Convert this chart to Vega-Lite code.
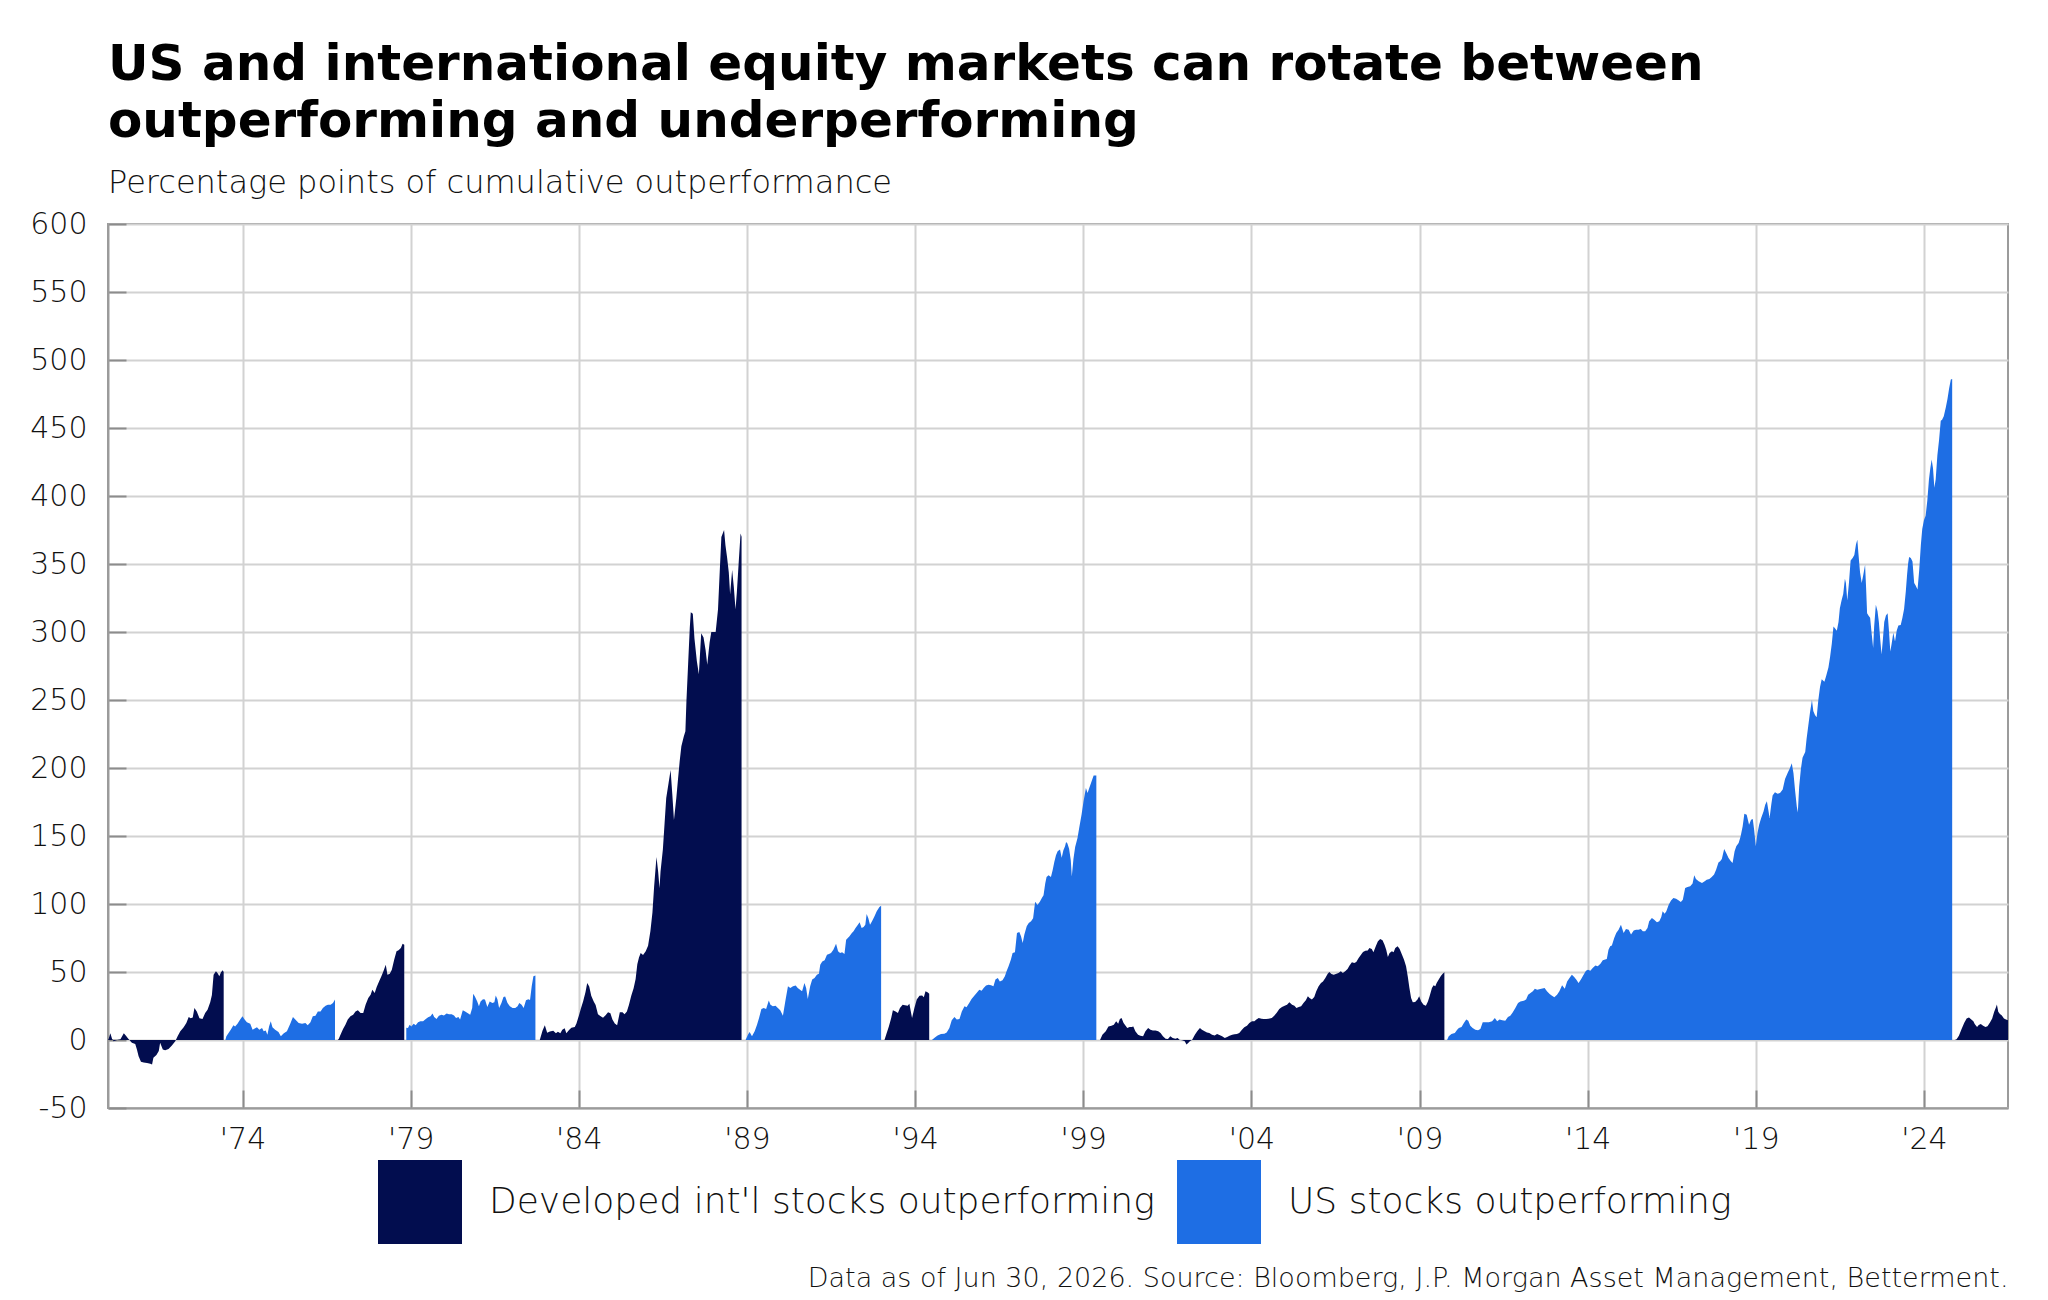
{
"$schema":"https://vega.github.io/schema/vega-lite/v6.json",
"width":1900,"height":884,
"autosize":{"type":"none"},
"padding":{"left":108,"top":224,"right":40,"bottom":192},
"background":"white",
"config":{"view":{"stroke":"#9b9b9b","strokeWidth":2},"font":"DejaVu Sans"},
"title":{"text":["US and international equity markets can rotate between","outperforming and underperforming"],"subtitle":"Percentage points of cumulative outperformance","anchor":"start","frame":"group","orient":"top","font":"DejaVu Sans","fontSize":50,"fontWeight":700,"color":"#000000","lineHeight":57,"subtitleFont":"DejaVu Sans","subtitleFontSize":32,"subtitleFontWeight":300,"subtitleColor":"#111111","subtitlePadding":21,"offset":10},
"data":{"values":[
{"t":1970.0,"v":0,"s":1,"c":"I"},{"t":1970.02,"v":1,"s":1,"c":"I"},{"t":1970.07,"v":5,"s":1,"c":"I"},{"t":1970.12,"v":1,"s":1,"c":"I"},{"t":1970.17,"v":-1,"s":1,"c":"I"},{"t":1970.27,"v":0,"s":1,"c":"I"},{"t":1970.37,"v":0.5,"s":1,"c":"I"},{"t":1970.47,"v":5,"s":1,"c":"I"},{"t":1970.54,"v":3,"s":1,"c":"I"},{"t":1970.61,"v":0.7,"s":1,"c":"I"},{"t":1970.71,"v":-2,"s":1,"c":"I"},{"t":1970.81,"v":-3,"s":1,"c":"I"},{"t":1970.86,"v":-7,"s":1,"c":"I"},{"t":1970.91,"v":-12,"s":1,"c":"I"},{"t":1970.98,"v":-16,"s":1,"c":"I"},{"t":1971.06,"v":-16.5,"s":1,"c":"I"},{"t":1971.16,"v":-17,"s":1,"c":"I"},{"t":1971.26,"v":-17.4,"s":1,"c":"I"},{"t":1971.31,"v":-18,"s":1,"c":"I"},{"t":1971.35,"v":-13,"s":1,"c":"I"},{"t":1971.44,"v":-11,"s":1,"c":"I"},{"t":1971.51,"v":-8,"s":1,"c":"I"},{"t":1971.55,"v":-2,"s":1,"c":"I"},{"t":1971.63,"v":-7,"s":1,"c":"I"},{"t":1971.7,"v":-7.6,"s":1,"c":"I"},{"t":1971.8,"v":-6.6,"s":1,"c":"I"},{"t":1971.9,"v":-4,"s":1,"c":"I"},{"t":1972.0,"v":-1,"s":1,"c":"I"},{"t":1972.07,"v":2.7,"s":1,"c":"I"},{"t":1972.15,"v":6.4,"s":1,"c":"I"},{"t":1972.25,"v":9.3,"s":1,"c":"I"},{"t":1972.33,"v":12.5,"s":1,"c":"I"},{"t":1972.4,"v":17,"s":1,"c":"I"},{"t":1972.46,"v":16,"s":1,"c":"I"},{"t":1972.52,"v":16.5,"s":1,"c":"I"},{"t":1972.57,"v":23.5,"s":1,"c":"I"},{"t":1972.64,"v":21,"s":1,"c":"I"},{"t":1972.72,"v":16,"s":1,"c":"I"},{"t":1972.81,"v":15.4,"s":1,"c":"I"},{"t":1972.89,"v":19.9,"s":1,"c":"I"},{"t":1972.96,"v":22.3,"s":1,"c":"I"},{"t":1973.04,"v":27.7,"s":1,"c":"I"},{"t":1973.09,"v":33,"s":1,"c":"I"},{"t":1973.14,"v":48,"s":1,"c":"I"},{"t":1973.21,"v":50.5,"s":1,"c":"I"},{"t":1973.26,"v":49,"s":1,"c":"I"},{"t":1973.31,"v":46.8,"s":1,"c":"I"},{"t":1973.36,"v":49.8,"s":1,"c":"I"},{"t":1973.41,"v":51.2,"s":1,"c":"I"},{"t":1973.44,"v":50,"s":1,"c":"I"},
{"t":1973.49,"v":0,"s":2,"c":"U"},{"t":1973.52,"v":2.7,"s":2,"c":"U"},{"t":1973.58,"v":5,"s":2,"c":"U"},{"t":1973.65,"v":7.6,"s":2,"c":"U"},{"t":1973.73,"v":10.8,"s":2,"c":"U"},{"t":1973.78,"v":10,"s":2,"c":"U"},{"t":1973.85,"v":12,"s":2,"c":"U"},{"t":1973.93,"v":15,"s":2,"c":"U"},{"t":1974.0,"v":17.4,"s":2,"c":"U"},{"t":1974.05,"v":15.4,"s":2,"c":"U"},{"t":1974.13,"v":13,"s":2,"c":"U"},{"t":1974.23,"v":12,"s":2,"c":"U"},{"t":1974.3,"v":7.6,"s":2,"c":"U"},{"t":1974.35,"v":8.3,"s":2,"c":"U"},{"t":1974.43,"v":9.3,"s":2,"c":"U"},{"t":1974.5,"v":7.6,"s":2,"c":"U"},{"t":1974.58,"v":8.8,"s":2,"c":"U"},{"t":1974.63,"v":6.4,"s":2,"c":"U"},{"t":1974.69,"v":6.9,"s":2,"c":"U"},{"t":1974.74,"v":3.9,"s":2,"c":"U"},{"t":1974.79,"v":10,"s":2,"c":"U"},{"t":1974.84,"v":13.7,"s":2,"c":"U"},{"t":1974.89,"v":9.3,"s":2,"c":"U"},{"t":1974.97,"v":7.6,"s":2,"c":"U"},{"t":1975.07,"v":5.9,"s":2,"c":"U"},{"t":1975.14,"v":2.7,"s":2,"c":"U"},{"t":1975.22,"v":4.7,"s":2,"c":"U"},{"t":1975.32,"v":6.4,"s":2,"c":"U"},{"t":1975.42,"v":12,"s":2,"c":"U"},{"t":1975.5,"v":17,"s":2,"c":"U"},{"t":1975.57,"v":15,"s":2,"c":"U"},{"t":1975.67,"v":12.5,"s":2,"c":"U"},{"t":1975.77,"v":12,"s":2,"c":"U"},{"t":1975.87,"v":12.5,"s":2,"c":"U"},{"t":1975.94,"v":10.8,"s":2,"c":"U"},{"t":1976.02,"v":13,"s":2,"c":"U"},{"t":1976.09,"v":17.4,"s":2,"c":"U"},{"t":1976.17,"v":17.9,"s":2,"c":"U"},{"t":1976.24,"v":21,"s":2,"c":"U"},{"t":1976.32,"v":21,"s":2,"c":"U"},{"t":1976.39,"v":23.5,"s":2,"c":"U"},{"t":1976.47,"v":25.2,"s":2,"c":"U"},{"t":1976.54,"v":26,"s":2,"c":"U"},{"t":1976.62,"v":26,"s":2,"c":"U"},{"t":1976.69,"v":27.2,"s":2,"c":"U"},{"t":1976.75,"v":29.7,"s":2,"c":"U"},
{"t":1976.83,"v":0,"s":3,"c":"I"},{"t":1976.86,"v":0.7,"s":3,"c":"I"},{"t":1976.93,"v":4.7,"s":3,"c":"I"},{"t":1976.99,"v":8,"s":3,"c":"I"},{"t":1977.06,"v":11.3,"s":3,"c":"I"},{"t":1977.13,"v":15,"s":3,"c":"I"},{"t":1977.21,"v":17.4,"s":3,"c":"I"},{"t":1977.29,"v":18.6,"s":3,"c":"I"},{"t":1977.36,"v":21,"s":3,"c":"I"},{"t":1977.43,"v":21.8,"s":3,"c":"I"},{"t":1977.51,"v":19.9,"s":3,"c":"I"},{"t":1977.59,"v":19.9,"s":3,"c":"I"},{"t":1977.66,"v":26,"s":3,"c":"I"},{"t":1977.74,"v":30.9,"s":3,"c":"I"},{"t":1977.81,"v":33.3,"s":3,"c":"I"},{"t":1977.86,"v":37,"s":3,"c":"I"},{"t":1977.93,"v":34.6,"s":3,"c":"I"},{"t":1977.99,"v":39,"s":3,"c":"I"},{"t":1978.06,"v":43,"s":3,"c":"I"},{"t":1978.13,"v":46.8,"s":3,"c":"I"},{"t":1978.19,"v":50.5,"s":3,"c":"I"},{"t":1978.26,"v":55.4,"s":3,"c":"I"},{"t":1978.31,"v":48,"s":3,"c":"I"},{"t":1978.38,"v":48.8,"s":3,"c":"I"},{"t":1978.44,"v":51.7,"s":3,"c":"I"},{"t":1978.51,"v":59,"s":3,"c":"I"},{"t":1978.58,"v":65.2,"s":3,"c":"I"},{"t":1978.64,"v":66,"s":3,"c":"I"},{"t":1978.71,"v":67.6,"s":3,"c":"I"},{"t":1978.76,"v":70.8,"s":3,"c":"I"},{"t":1978.81,"v":70,"s":3,"c":"I"},
{"t":1978.87,"v":9,"s":4,"c":"U"},{"t":1978.92,"v":8.8,"s":4,"c":"U"},{"t":1978.97,"v":11.3,"s":4,"c":"U"},{"t":1979.02,"v":10,"s":4,"c":"U"},{"t":1979.09,"v":12,"s":4,"c":"U"},{"t":1979.15,"v":10.8,"s":4,"c":"U"},{"t":1979.22,"v":13,"s":4,"c":"U"},{"t":1979.29,"v":13.7,"s":4,"c":"U"},{"t":1979.37,"v":13.7,"s":4,"c":"U"},{"t":1979.45,"v":15.4,"s":4,"c":"U"},{"t":1979.52,"v":16.7,"s":4,"c":"U"},{"t":1979.59,"v":17.4,"s":4,"c":"U"},{"t":1979.65,"v":19.4,"s":4,"c":"U"},{"t":1979.7,"v":16.9,"s":4,"c":"U"},{"t":1979.77,"v":15.4,"s":4,"c":"U"},{"t":1979.84,"v":17.9,"s":4,"c":"U"},{"t":1979.92,"v":18.6,"s":4,"c":"U"},{"t":1979.99,"v":18,"s":4,"c":"U"},{"t":1980.07,"v":19.4,"s":4,"c":"U"},{"t":1980.14,"v":19,"s":4,"c":"U"},{"t":1980.22,"v":19,"s":4,"c":"U"},{"t":1980.29,"v":18,"s":4,"c":"U"},{"t":1980.35,"v":16.2,"s":4,"c":"U"},{"t":1980.42,"v":17,"s":4,"c":"U"},{"t":1980.47,"v":15,"s":4,"c":"U"},{"t":1980.55,"v":21.8,"s":4,"c":"U"},{"t":1980.62,"v":21,"s":4,"c":"U"},{"t":1980.69,"v":19.9,"s":4,"c":"U"},{"t":1980.77,"v":18.6,"s":4,"c":"U"},{"t":1980.83,"v":23.5,"s":4,"c":"U"},{"t":1980.86,"v":34,"s":4,"c":"U"},{"t":1980.91,"v":32,"s":4,"c":"U"},{"t":1980.98,"v":28.4,"s":4,"c":"U"},{"t":1981.03,"v":24.8,"s":4,"c":"U"},{"t":1981.08,"v":28.4,"s":4,"c":"U"},{"t":1981.15,"v":30,"s":4,"c":"U"},{"t":1981.21,"v":29.7,"s":4,"c":"U"},{"t":1981.28,"v":24.3,"s":4,"c":"U"},{"t":1981.35,"v":28.4,"s":4,"c":"U"},{"t":1981.43,"v":27.2,"s":4,"c":"U"},{"t":1981.49,"v":27.7,"s":4,"c":"U"},{"t":1981.53,"v":32.8,"s":4,"c":"U"},{"t":1981.58,"v":30,"s":4,"c":"U"},{"t":1981.63,"v":23.5,"s":4,"c":"U"},{"t":1981.7,"v":27.2,"s":4,"c":"U"},{"t":1981.76,"v":31.6,"s":4,"c":"U"},{"t":1981.81,"v":32,"s":4,"c":"U"},{"t":1981.88,"v":27.2,"s":4,"c":"U"},{"t":1981.95,"v":24.8,"s":4,"c":"U"},{"t":1982.03,"v":23.5,"s":4,"c":"U"},{"t":1982.11,"v":23.5,"s":4,"c":"U"},{"t":1982.18,"v":24.8,"s":4,"c":"U"},{"t":1982.23,"v":27.2,"s":4,"c":"U"},{"t":1982.3,"v":26,"s":4,"c":"U"},{"t":1982.36,"v":23.5,"s":4,"c":"U"},{"t":1982.43,"v":29.2,"s":4,"c":"U"},{"t":1982.5,"v":30,"s":4,"c":"U"},{"t":1982.55,"v":29.5,"s":4,"c":"U"},{"t":1982.6,"v":39.5,"s":4,"c":"U"},{"t":1982.65,"v":46.8,"s":4,"c":"U"},{"t":1982.71,"v":47.5,"s":4,"c":"U"},
{"t":1982.84,"v":0,"s":5,"c":"I"},{"t":1982.92,"v":6.8,"s":5,"c":"I"},{"t":1982.99,"v":10.9,"s":5,"c":"I"},{"t":1983.06,"v":5.4,"s":5,"c":"I"},{"t":1983.14,"v":6.3,"s":5,"c":"I"},{"t":1983.24,"v":6.8,"s":5,"c":"I"},{"t":1983.32,"v":4.9,"s":5,"c":"I"},{"t":1983.38,"v":6,"s":5,"c":"I"},{"t":1983.45,"v":5,"s":5,"c":"I"},{"t":1983.51,"v":7.6,"s":5,"c":"I"},{"t":1983.58,"v":8.7,"s":5,"c":"I"},{"t":1983.63,"v":4.9,"s":5,"c":"I"},{"t":1983.71,"v":7.3,"s":5,"c":"I"},{"t":1983.78,"v":9,"s":5,"c":"I"},{"t":1983.88,"v":9.5,"s":5,"c":"I"},{"t":1983.93,"v":12.2,"s":5,"c":"I"},{"t":1984.0,"v":17.7,"s":5,"c":"I"},{"t":1984.06,"v":23,"s":5,"c":"I"},{"t":1984.13,"v":28.5,"s":5,"c":"I"},{"t":1984.2,"v":35.3,"s":5,"c":"I"},{"t":1984.25,"v":42,"s":5,"c":"I"},{"t":1984.31,"v":39.4,"s":5,"c":"I"},{"t":1984.37,"v":32.6,"s":5,"c":"I"},{"t":1984.44,"v":28.5,"s":5,"c":"I"},{"t":1984.5,"v":25.8,"s":5,"c":"I"},{"t":1984.57,"v":19,"s":5,"c":"I"},{"t":1984.64,"v":17.7,"s":5,"c":"I"},{"t":1984.72,"v":16.3,"s":5,"c":"I"},{"t":1984.79,"v":18,"s":5,"c":"I"},{"t":1984.87,"v":20.4,"s":5,"c":"I"},{"t":1984.94,"v":19.6,"s":5,"c":"I"},{"t":1985.0,"v":15,"s":5,"c":"I"},{"t":1985.07,"v":12.2,"s":5,"c":"I"},{"t":1985.14,"v":10.9,"s":5,"c":"I"},{"t":1985.22,"v":20.4,"s":5,"c":"I"},{"t":1985.3,"v":20.4,"s":5,"c":"I"},{"t":1985.36,"v":19,"s":5,"c":"I"},{"t":1985.43,"v":21,"s":5,"c":"I"},{"t":1985.49,"v":25.8,"s":5,"c":"I"},{"t":1985.56,"v":32.6,"s":5,"c":"I"},{"t":1985.63,"v":38,"s":5,"c":"I"},{"t":1985.69,"v":44.9,"s":5,"c":"I"},{"t":1985.74,"v":55.7,"s":5,"c":"I"},{"t":1985.79,"v":60.6,"s":5,"c":"I"},{"t":1985.84,"v":63.9,"s":5,"c":"I"},{"t":1985.91,"v":62.5,"s":5,"c":"I"},{"t":1985.99,"v":65.3,"s":5,"c":"I"},{"t":1986.06,"v":69.3,"s":5,"c":"I"},{"t":1986.13,"v":80.2,"s":5,"c":"I"},{"t":1986.19,"v":93.8,"s":5,"c":"I"},{"t":1986.24,"v":112.8,"s":5,"c":"I"},{"t":1986.31,"v":134.6,"s":5,"c":"I"},{"t":1986.36,"v":123.7,"s":5,"c":"I"},{"t":1986.4,"v":111.5,"s":5,"c":"I"},{"t":1986.43,"v":123.7,"s":5,"c":"I"},{"t":1986.5,"v":140,"s":5,"c":"I"},{"t":1986.55,"v":159,"s":5,"c":"I"},{"t":1986.6,"v":178,"s":5,"c":"I"},{"t":1986.67,"v":189,"s":5,"c":"I"},{"t":1986.73,"v":198.5,"s":5,"c":"I"},{"t":1986.78,"v":180.8,"s":5,"c":"I"},{"t":1986.83,"v":161.8,"s":5,"c":"I"},{"t":1986.9,"v":178,"s":5,"c":"I"},{"t":1986.95,"v":191.7,"s":5,"c":"I"},{"t":1987.0,"v":205,"s":5,"c":"I"},{"t":1987.05,"v":216,"s":5,"c":"I"},{"t":1987.12,"v":223,"s":5,"c":"I"},{"t":1987.17,"v":227,"s":5,"c":"I"},{"t":1987.2,"v":248.8,"s":5,"c":"I"},{"t":1987.25,"v":276,"s":5,"c":"I"},{"t":1987.3,"v":303,"s":5,"c":"I"},{"t":1987.33,"v":314.6,"s":5,"c":"I"},{"t":1987.39,"v":313.5,"s":5,"c":"I"},{"t":1987.44,"v":295,"s":5,"c":"I"},{"t":1987.51,"v":278.7,"s":5,"c":"I"},{"t":1987.57,"v":269,"s":5,"c":"I"},{"t":1987.64,"v":299,"s":5,"c":"I"},{"t":1987.71,"v":296,"s":5,"c":"I"},{"t":1987.77,"v":286.8,"s":5,"c":"I"},{"t":1987.82,"v":276,"s":5,"c":"I"},{"t":1987.89,"v":292.3,"s":5,"c":"I"},{"t":1987.94,"v":300,"s":5,"c":"I"},{"t":1988.07,"v":300,"s":5,"c":"I"},{"t":1988.14,"v":316.7,"s":5,"c":"I"},{"t":1988.19,"v":344,"s":5,"c":"I"},{"t":1988.24,"v":369.8,"s":5,"c":"I"},{"t":1988.32,"v":375,"s":5,"c":"I"},{"t":1988.36,"v":364,"s":5,"c":"I"},{"t":1988.41,"v":354.8,"s":5,"c":"I"},{"t":1988.46,"v":344,"s":5,"c":"I"},{"t":1988.5,"v":327.6,"s":5,"c":"I"},{"t":1988.56,"v":345.6,"s":5,"c":"I"},{"t":1988.61,"v":333,"s":5,"c":"I"},{"t":1988.66,"v":316.7,"s":5,"c":"I"},{"t":1988.7,"v":329,"s":5,"c":"I"},{"t":1988.75,"v":349,"s":5,"c":"I"},{"t":1988.81,"v":372.5,"s":5,"c":"I"},{"t":1988.84,"v":370,"s":5,"c":"I"},
{"t":1988.96,"v":0,"s":6,"c":"U"},{"t":1989.03,"v":3.9,"s":6,"c":"U"},{"t":1989.08,"v":5.9,"s":6,"c":"U"},{"t":1989.15,"v":2.7,"s":6,"c":"U"},{"t":1989.23,"v":6.4,"s":6,"c":"U"},{"t":1989.3,"v":11.3,"s":6,"c":"U"},{"t":1989.36,"v":16.2,"s":6,"c":"U"},{"t":1989.43,"v":22.8,"s":6,"c":"U"},{"t":1989.5,"v":23.5,"s":6,"c":"U"},{"t":1989.57,"v":22.8,"s":6,"c":"U"},{"t":1989.65,"v":29,"s":6,"c":"U"},{"t":1989.7,"v":26,"s":6,"c":"U"},{"t":1989.77,"v":24.8,"s":6,"c":"U"},{"t":1989.85,"v":25.2,"s":6,"c":"U"},{"t":1989.92,"v":23.5,"s":6,"c":"U"},{"t":1989.99,"v":21.8,"s":6,"c":"U"},{"t":1990.07,"v":17.9,"s":6,"c":"U"},{"t":1990.15,"v":29.7,"s":6,"c":"U"},{"t":1990.22,"v":39.5,"s":6,"c":"U"},{"t":1990.29,"v":38.2,"s":6,"c":"U"},{"t":1990.37,"v":39.5,"s":6,"c":"U"},{"t":1990.45,"v":40,"s":6,"c":"U"},{"t":1990.51,"v":38.2,"s":6,"c":"U"},{"t":1990.58,"v":37,"s":6,"c":"U"},{"t":1990.64,"v":35.8,"s":6,"c":"U"},{"t":1990.71,"v":41.9,"s":6,"c":"U"},{"t":1990.76,"v":38.2,"s":6,"c":"U"},{"t":1990.81,"v":30.1,"s":6,"c":"U"},{"t":1990.88,"v":39.5,"s":6,"c":"U"},{"t":1990.94,"v":44.4,"s":6,"c":"U"},{"t":1991.01,"v":45.6,"s":6,"c":"U"},{"t":1991.08,"v":48,"s":6,"c":"U"},{"t":1991.14,"v":48.8,"s":6,"c":"U"},{"t":1991.18,"v":55.4,"s":6,"c":"U"},{"t":1991.24,"v":57.8,"s":6,"c":"U"},{"t":1991.31,"v":58.6,"s":6,"c":"U"},{"t":1991.38,"v":62.7,"s":6,"c":"U"},{"t":1991.44,"v":63.2,"s":6,"c":"U"},{"t":1991.5,"v":64,"s":6,"c":"U"},{"t":1991.57,"v":66.4,"s":6,"c":"U"},{"t":1991.65,"v":70.8,"s":6,"c":"U"},{"t":1991.71,"v":65.2,"s":6,"c":"U"},{"t":1991.77,"v":64,"s":6,"c":"U"},{"t":1991.83,"v":64.5,"s":6,"c":"U"},{"t":1991.9,"v":63.2,"s":6,"c":"U"},{"t":1991.95,"v":73.8,"s":6,"c":"U"},{"t":1992.0,"v":75,"s":6,"c":"U"},{"t":1992.05,"v":76.2,"s":6,"c":"U"},{"t":1992.12,"v":78.7,"s":6,"c":"U"},{"t":1992.17,"v":79.9,"s":6,"c":"U"},{"t":1992.23,"v":82.4,"s":6,"c":"U"},{"t":1992.3,"v":84.8,"s":6,"c":"U"},{"t":1992.35,"v":86.5,"s":6,"c":"U"},{"t":1992.41,"v":82.4,"s":6,"c":"U"},{"t":1992.47,"v":83,"s":6,"c":"U"},{"t":1992.52,"v":84.8,"s":6,"c":"U"},{"t":1992.56,"v":92.6,"s":6,"c":"U"},{"t":1992.61,"v":89.6,"s":6,"c":"U"},{"t":1992.66,"v":84.8,"s":6,"c":"U"},{"t":1992.72,"v":87.3,"s":6,"c":"U"},{"t":1992.79,"v":90.9,"s":6,"c":"U"},{"t":1992.86,"v":94.6,"s":6,"c":"U"},{"t":1992.94,"v":97.8,"s":6,"c":"U"},{"t":1992.99,"v":98.8,"s":6,"c":"U"},
{"t":1993.09,"v":0,"s":7,"c":"I"},{"t":1993.14,"v":3.9,"s":7,"c":"I"},{"t":1993.22,"v":10,"s":7,"c":"I"},{"t":1993.29,"v":16.2,"s":7,"c":"I"},{"t":1993.34,"v":21.8,"s":7,"c":"I"},{"t":1993.42,"v":21,"s":7,"c":"I"},{"t":1993.49,"v":19.9,"s":7,"c":"I"},{"t":1993.55,"v":23.5,"s":7,"c":"I"},{"t":1993.63,"v":26,"s":7,"c":"I"},{"t":1993.7,"v":25.5,"s":7,"c":"I"},{"t":1993.78,"v":25.2,"s":7,"c":"I"},{"t":1993.83,"v":26.7,"s":7,"c":"I"},{"t":1993.91,"v":16.2,"s":7,"c":"I"},{"t":1993.98,"v":23.5,"s":7,"c":"I"},{"t":1994.05,"v":29.7,"s":7,"c":"I"},{"t":1994.13,"v":32.6,"s":7,"c":"I"},{"t":1994.21,"v":32.8,"s":7,"c":"I"},{"t":1994.26,"v":31.4,"s":7,"c":"I"},{"t":1994.31,"v":35.8,"s":7,"c":"I"},{"t":1994.38,"v":35,"s":7,"c":"I"},{"t":1994.42,"v":34,"s":7,"c":"I"},
{"t":1994.5,"v":0,"s":8,"c":"U"},{"t":1994.57,"v":1.5,"s":8,"c":"U"},{"t":1994.67,"v":3.4,"s":8,"c":"U"},{"t":1994.77,"v":4.4,"s":8,"c":"U"},{"t":1994.87,"v":4.6,"s":8,"c":"U"},{"t":1994.94,"v":5.6,"s":8,"c":"U"},{"t":1995.02,"v":8.8,"s":8,"c":"U"},{"t":1995.09,"v":14.5,"s":8,"c":"U"},{"t":1995.17,"v":16.9,"s":8,"c":"U"},{"t":1995.24,"v":15,"s":8,"c":"U"},{"t":1995.32,"v":15.4,"s":8,"c":"U"},{"t":1995.39,"v":21,"s":8,"c":"U"},{"t":1995.47,"v":24.8,"s":8,"c":"U"},{"t":1995.53,"v":24,"s":8,"c":"U"},{"t":1995.61,"v":27.2,"s":8,"c":"U"},{"t":1995.68,"v":30.1,"s":8,"c":"U"},{"t":1995.76,"v":32.6,"s":8,"c":"U"},{"t":1995.83,"v":34.6,"s":8,"c":"U"},{"t":1995.91,"v":37,"s":8,"c":"U"},{"t":1995.98,"v":36.3,"s":8,"c":"U"},{"t":1996.04,"v":38.2,"s":8,"c":"U"},{"t":1996.11,"v":40,"s":8,"c":"U"},{"t":1996.19,"v":40.7,"s":8,"c":"U"},{"t":1996.26,"v":40.2,"s":8,"c":"U"},{"t":1996.33,"v":39.5,"s":8,"c":"U"},{"t":1996.39,"v":44.4,"s":8,"c":"U"},{"t":1996.46,"v":45.6,"s":8,"c":"U"},{"t":1996.52,"v":43.1,"s":8,"c":"U"},{"t":1996.6,"v":43.9,"s":8,"c":"U"},{"t":1996.67,"v":46.8,"s":8,"c":"U"},{"t":1996.72,"v":50.5,"s":8,"c":"U"},{"t":1996.78,"v":54.2,"s":8,"c":"U"},{"t":1996.85,"v":59.1,"s":8,"c":"U"},{"t":1996.9,"v":64,"s":8,"c":"U"},{"t":1996.97,"v":64.5,"s":8,"c":"U"},{"t":1997.03,"v":78.7,"s":8,"c":"U"},{"t":1997.1,"v":79.4,"s":8,"c":"U"},{"t":1997.15,"v":76.2,"s":8,"c":"U"},{"t":1997.2,"v":71.3,"s":8,"c":"U"},{"t":1997.25,"v":77.5,"s":8,"c":"U"},{"t":1997.32,"v":83.6,"s":8,"c":"U"},{"t":1997.38,"v":86,"s":8,"c":"U"},{"t":1997.45,"v":87.3,"s":8,"c":"U"},{"t":1997.51,"v":89.6,"s":8,"c":"U"},{"t":1997.57,"v":101.6,"s":8,"c":"U"},{"t":1997.64,"v":99.3,"s":8,"c":"U"},{"t":1997.71,"v":101.6,"s":8,"c":"U"},{"t":1997.77,"v":104.4,"s":8,"c":"U"},{"t":1997.82,"v":106.4,"s":8,"c":"U"},{"t":1997.87,"v":115,"s":8,"c":"U"},{"t":1997.91,"v":119.8,"s":8,"c":"U"},{"t":1997.97,"v":121.1,"s":8,"c":"U"},{"t":1998.04,"v":119.8,"s":8,"c":"U"},{"t":1998.09,"v":124.8,"s":8,"c":"U"},{"t":1998.14,"v":130.9,"s":8,"c":"U"},{"t":1998.19,"v":135.8,"s":8,"c":"U"},{"t":1998.24,"v":138.7,"s":8,"c":"U"},{"t":1998.31,"v":140,"s":8,"c":"U"},{"t":1998.36,"v":134,"s":8,"c":"U"},{"t":1998.41,"v":139.5,"s":8,"c":"U"},{"t":1998.46,"v":142.4,"s":8,"c":"U"},{"t":1998.49,"v":145.6,"s":8,"c":"U"},{"t":1998.53,"v":144.4,"s":8,"c":"U"},{"t":1998.58,"v":140.7,"s":8,"c":"U"},{"t":1998.63,"v":132.2,"s":8,"c":"U"},{"t":1998.66,"v":120.3,"s":8,"c":"U"},{"t":1998.71,"v":133.3,"s":8,"c":"U"},{"t":1998.76,"v":141.9,"s":8,"c":"U"},{"t":1998.83,"v":148.5,"s":8,"c":"U"},{"t":1998.88,"v":155.9,"s":8,"c":"U"},{"t":1998.95,"v":165.7,"s":8,"c":"U"},{"t":1999.01,"v":175.5,"s":8,"c":"U"},{"t":1999.08,"v":185.3,"s":8,"c":"U"},{"t":1999.13,"v":181.6,"s":8,"c":"U"},{"t":1999.18,"v":185.3,"s":8,"c":"U"},{"t":1999.25,"v":190.2,"s":8,"c":"U"},{"t":1999.31,"v":194.4,"s":8,"c":"U"},{"t":1999.39,"v":194.4,"s":8,"c":"U"},
{"t":1999.5,"v":0,"s":9,"c":"I"},{"t":1999.57,"v":3.9,"s":9,"c":"I"},{"t":1999.67,"v":6.4,"s":9,"c":"I"},{"t":1999.75,"v":10,"s":9,"c":"I"},{"t":1999.84,"v":10.5,"s":9,"c":"I"},{"t":1999.91,"v":11.3,"s":9,"c":"I"},{"t":1999.98,"v":13.7,"s":9,"c":"I"},{"t":2000.04,"v":12,"s":9,"c":"I"},{"t":2000.09,"v":15.4,"s":9,"c":"I"},{"t":2000.14,"v":16.2,"s":9,"c":"I"},{"t":2000.2,"v":12.5,"s":9,"c":"I"},{"t":2000.26,"v":10.5,"s":9,"c":"I"},{"t":2000.31,"v":8.8,"s":9,"c":"I"},{"t":2000.38,"v":9.6,"s":9,"c":"I"},{"t":2000.44,"v":9.6,"s":9,"c":"I"},{"t":2000.49,"v":10,"s":9,"c":"I"},{"t":2000.55,"v":6.4,"s":9,"c":"I"},{"t":2000.63,"v":3.9,"s":9,"c":"I"},{"t":2000.7,"v":3.2,"s":9,"c":"I"},{"t":2000.78,"v":2.7,"s":9,"c":"I"},{"t":2000.85,"v":6.4,"s":9,"c":"I"},{"t":2000.93,"v":8.8,"s":9,"c":"I"},{"t":2001.0,"v":7.6,"s":9,"c":"I"},{"t":2001.07,"v":6.9,"s":9,"c":"I"},{"t":2001.15,"v":6.9,"s":9,"c":"I"},{"t":2001.23,"v":6.4,"s":9,"c":"I"},{"t":2001.3,"v":5.1,"s":9,"c":"I"},{"t":2001.37,"v":2.7,"s":9,"c":"I"},{"t":2001.45,"v":1,"s":9,"c":"I"},{"t":2001.52,"v":0.8,"s":9,"c":"I"},{"t":2001.59,"v":2.7,"s":9,"c":"I"},{"t":2001.66,"v":1.5,"s":9,"c":"I"},{"t":2001.74,"v":1,"s":9,"c":"I"},{"t":2001.81,"v":1.5,"s":9,"c":"I"},{"t":2001.86,"v":0.2,"s":9,"c":"I"},{"t":2001.94,"v":-0.2,"s":9,"c":"I"},{"t":2002.02,"v":-1,"s":9,"c":"I"},{"t":2002.07,"v":-3.4,"s":9,"c":"I"},{"t":2002.12,"v":-2.2,"s":9,"c":"I"},{"t":2002.17,"v":-1,"s":9,"c":"I"},{"t":2002.24,"v":0.2,"s":9,"c":"I"},{"t":2002.32,"v":3.9,"s":9,"c":"I"},{"t":2002.39,"v":6.4,"s":9,"c":"I"},{"t":2002.47,"v":8.8,"s":9,"c":"I"},{"t":2002.53,"v":7.6,"s":9,"c":"I"},{"t":2002.61,"v":6.4,"s":9,"c":"I"},{"t":2002.68,"v":5.6,"s":9,"c":"I"},{"t":2002.75,"v":5.1,"s":9,"c":"I"},{"t":2002.83,"v":3.9,"s":9,"c":"I"},{"t":2002.91,"v":3.4,"s":9,"c":"I"},{"t":2002.98,"v":4.4,"s":9,"c":"I"},{"t":2003.05,"v":3.7,"s":9,"c":"I"},{"t":2003.13,"v":2.7,"s":9,"c":"I"},{"t":2003.21,"v":1.5,"s":9,"c":"I"},{"t":2003.28,"v":2.2,"s":9,"c":"I"},{"t":2003.35,"v":3.2,"s":9,"c":"I"},{"t":2003.43,"v":3.9,"s":9,"c":"I"},{"t":2003.5,"v":4.2,"s":9,"c":"I"},{"t":2003.57,"v":4.4,"s":9,"c":"I"},{"t":2003.64,"v":5.1,"s":9,"c":"I"},{"t":2003.72,"v":7.6,"s":9,"c":"I"},{"t":2003.79,"v":9.3,"s":9,"c":"I"},{"t":2003.87,"v":10.5,"s":9,"c":"I"},{"t":2003.94,"v":12.5,"s":9,"c":"I"},{"t":2004.02,"v":13.7,"s":9,"c":"I"},{"t":2004.09,"v":13.7,"s":9,"c":"I"},{"t":2004.15,"v":15,"s":9,"c":"I"},{"t":2004.22,"v":16.2,"s":9,"c":"I"},{"t":2004.3,"v":15.7,"s":9,"c":"I"},{"t":2004.37,"v":15.5,"s":9,"c":"I"},{"t":2004.44,"v":15.5,"s":9,"c":"I"},{"t":2004.51,"v":15.7,"s":9,"c":"I"},{"t":2004.61,"v":16.2,"s":9,"c":"I"},{"t":2004.68,"v":17.9,"s":9,"c":"I"},{"t":2004.76,"v":20.3,"s":9,"c":"I"},{"t":2004.83,"v":22.8,"s":9,"c":"I"},{"t":2004.91,"v":24.3,"s":9,"c":"I"},{"t":2004.99,"v":25.2,"s":9,"c":"I"},{"t":2005.06,"v":26,"s":9,"c":"I"},{"t":2005.13,"v":27.7,"s":9,"c":"I"},{"t":2005.21,"v":26,"s":9,"c":"I"},{"t":2005.28,"v":25.2,"s":9,"c":"I"},{"t":2005.34,"v":23.5,"s":9,"c":"I"},{"t":2005.41,"v":24.3,"s":9,"c":"I"},{"t":2005.48,"v":24.8,"s":9,"c":"I"},{"t":2005.55,"v":27.2,"s":9,"c":"I"},{"t":2005.62,"v":29.2,"s":9,"c":"I"},{"t":2005.68,"v":32.1,"s":9,"c":"I"},{"t":2005.73,"v":30.9,"s":9,"c":"I"},{"t":2005.8,"v":29.7,"s":9,"c":"I"},{"t":2005.87,"v":31.6,"s":9,"c":"I"},{"t":2005.93,"v":35.8,"s":9,"c":"I"},{"t":2006.0,"v":39.5,"s":9,"c":"I"},{"t":2006.07,"v":41.9,"s":9,"c":"I"},{"t":2006.13,"v":43.1,"s":9,"c":"I"},{"t":2006.2,"v":45.6,"s":9,"c":"I"},{"t":2006.27,"v":48.8,"s":9,"c":"I"},{"t":2006.32,"v":50,"s":9,"c":"I"},{"t":2006.38,"v":48.5,"s":9,"c":"I"},{"t":2006.45,"v":48,"s":9,"c":"I"},{"t":2006.51,"v":48.5,"s":9,"c":"I"},{"t":2006.59,"v":49.3,"s":9,"c":"I"},{"t":2006.66,"v":50.5,"s":9,"c":"I"},{"t":2006.72,"v":49.3,"s":9,"c":"I"},{"t":2006.79,"v":50.5,"s":9,"c":"I"},{"t":2006.86,"v":52.2,"s":9,"c":"I"},{"t":2006.92,"v":54.7,"s":9,"c":"I"},{"t":2006.99,"v":57.1,"s":9,"c":"I"},{"t":2007.06,"v":56.6,"s":9,"c":"I"},{"t":2007.12,"v":57.4,"s":9,"c":"I"},{"t":2007.19,"v":60.3,"s":9,"c":"I"},{"t":2007.26,"v":62.7,"s":9,"c":"I"},{"t":2007.32,"v":64.7,"s":9,"c":"I"},{"t":2007.39,"v":65.7,"s":9,"c":"I"},{"t":2007.46,"v":65.9,"s":9,"c":"I"},{"t":2007.51,"v":67.6,"s":9,"c":"I"},{"t":2007.58,"v":66.9,"s":9,"c":"I"},{"t":2007.63,"v":64.5,"s":9,"c":"I"},{"t":2007.7,"v":68.9,"s":9,"c":"I"},{"t":2007.76,"v":72.5,"s":9,"c":"I"},{"t":2007.83,"v":74.3,"s":9,"c":"I"},{"t":2007.9,"v":73.3,"s":9,"c":"I"},{"t":2007.96,"v":70.1,"s":9,"c":"I"},{"t":2008.01,"v":66.4,"s":9,"c":"I"},{"t":2008.06,"v":61,"s":9,"c":"I"},{"t":2008.11,"v":64,"s":9,"c":"I"},{"t":2008.18,"v":65.2,"s":9,"c":"I"},{"t":2008.23,"v":64.5,"s":9,"c":"I"},{"t":2008.28,"v":67.6,"s":9,"c":"I"},{"t":2008.35,"v":68.9,"s":9,"c":"I"},{"t":2008.41,"v":66.9,"s":9,"c":"I"},{"t":2008.48,"v":62.7,"s":9,"c":"I"},{"t":2008.54,"v":59,"s":9,"c":"I"},{"t":2008.6,"v":54.2,"s":9,"c":"I"},{"t":2008.65,"v":46.8,"s":9,"c":"I"},{"t":2008.7,"v":38.2,"s":9,"c":"I"},{"t":2008.75,"v":30.9,"s":9,"c":"I"},{"t":2008.8,"v":27.7,"s":9,"c":"I"},{"t":2008.87,"v":28,"s":9,"c":"I"},{"t":2008.94,"v":29.7,"s":9,"c":"I"},{"t":2008.99,"v":32.1,"s":9,"c":"I"},{"t":2009.05,"v":28.4,"s":9,"c":"I"},{"t":2009.12,"v":26,"s":9,"c":"I"},{"t":2009.19,"v":25.2,"s":9,"c":"I"},{"t":2009.25,"v":28.4,"s":9,"c":"I"},{"t":2009.3,"v":32.1,"s":9,"c":"I"},{"t":2009.37,"v":38.2,"s":9,"c":"I"},{"t":2009.42,"v":40.2,"s":9,"c":"I"},{"t":2009.47,"v":39.5,"s":9,"c":"I"},{"t":2009.51,"v":41.9,"s":9,"c":"I"},{"t":2009.58,"v":44.9,"s":9,"c":"I"},{"t":2009.64,"v":47.3,"s":9,"c":"I"},{"t":2009.69,"v":48.8,"s":9,"c":"I"},{"t":2009.74,"v":49.8,"s":9,"c":"I"},
{"t":2009.82,"v":0,"s":10,"c":"U"},{"t":2009.87,"v":2.7,"s":10,"c":"U"},{"t":2009.95,"v":4.4,"s":10,"c":"U"},{"t":2010.05,"v":5.1,"s":10,"c":"U"},{"t":2010.12,"v":7.6,"s":10,"c":"U"},{"t":2010.17,"v":8.8,"s":10,"c":"U"},{"t":2010.25,"v":9.6,"s":10,"c":"U"},{"t":2010.32,"v":12.5,"s":10,"c":"U"},{"t":2010.39,"v":15,"s":10,"c":"U"},{"t":2010.45,"v":14.2,"s":10,"c":"U"},{"t":2010.51,"v":10.5,"s":10,"c":"U"},{"t":2010.58,"v":8.8,"s":10,"c":"U"},{"t":2010.66,"v":7.6,"s":10,"c":"U"},{"t":2010.74,"v":7.1,"s":10,"c":"U"},{"t":2010.81,"v":8.1,"s":10,"c":"U"},{"t":2010.88,"v":13,"s":10,"c":"U"},{"t":2010.96,"v":13,"s":10,"c":"U"},{"t":2011.06,"v":13,"s":10,"c":"U"},{"t":2011.16,"v":13.7,"s":10,"c":"U"},{"t":2011.24,"v":16.2,"s":10,"c":"U"},{"t":2011.31,"v":13.7,"s":10,"c":"U"},{"t":2011.38,"v":15,"s":10,"c":"U"},{"t":2011.46,"v":14.5,"s":10,"c":"U"},{"t":2011.55,"v":14.2,"s":10,"c":"U"},{"t":2011.63,"v":16.9,"s":10,"c":"U"},{"t":2011.7,"v":17.9,"s":10,"c":"U"},{"t":2011.77,"v":20.3,"s":10,"c":"U"},{"t":2011.85,"v":23.5,"s":10,"c":"U"},{"t":2011.93,"v":27.2,"s":10,"c":"U"},{"t":2012.0,"v":28.4,"s":10,"c":"U"},{"t":2012.1,"v":28.9,"s":10,"c":"U"},{"t":2012.17,"v":29.7,"s":10,"c":"U"},{"t":2012.23,"v":33.3,"s":10,"c":"U"},{"t":2012.3,"v":34.6,"s":10,"c":"U"},{"t":2012.37,"v":35.8,"s":10,"c":"U"},{"t":2012.43,"v":37.7,"s":10,"c":"U"},{"t":2012.5,"v":37,"s":10,"c":"U"},{"t":2012.59,"v":37.5,"s":10,"c":"U"},{"t":2012.72,"v":38.2,"s":10,"c":"U"},{"t":2012.79,"v":35.8,"s":10,"c":"U"},{"t":2012.87,"v":33.8,"s":10,"c":"U"},{"t":2012.94,"v":32.6,"s":10,"c":"U"},{"t":2013.01,"v":31.4,"s":10,"c":"U"},{"t":2013.09,"v":33.3,"s":10,"c":"U"},{"t":2013.16,"v":35.8,"s":10,"c":"U"},{"t":2013.24,"v":40.2,"s":10,"c":"U"},{"t":2013.32,"v":37.7,"s":10,"c":"U"},{"t":2013.39,"v":43.1,"s":10,"c":"U"},{"t":2013.46,"v":45.6,"s":10,"c":"U"},{"t":2013.53,"v":48,"s":10,"c":"U"},{"t":2013.6,"v":46.3,"s":10,"c":"U"},{"t":2013.66,"v":44.4,"s":10,"c":"U"},{"t":2013.73,"v":41.9,"s":10,"c":"U"},{"t":2013.8,"v":44.4,"s":10,"c":"U"},{"t":2013.88,"v":48,"s":10,"c":"U"},{"t":2013.95,"v":50.9,"s":10,"c":"U"},{"t":2014.01,"v":51.7,"s":10,"c":"U"},{"t":2014.08,"v":50.9,"s":10,"c":"U"},{"t":2014.15,"v":52.9,"s":10,"c":"U"},{"t":2014.23,"v":54.7,"s":10,"c":"U"},{"t":2014.3,"v":54.2,"s":10,"c":"U"},{"t":2014.38,"v":56.1,"s":10,"c":"U"},{"t":2014.45,"v":58.6,"s":10,"c":"U"},{"t":2014.52,"v":59.1,"s":10,"c":"U"},{"t":2014.57,"v":59.6,"s":10,"c":"U"},{"t":2014.62,"v":66.4,"s":10,"c":"U"},{"t":2014.67,"v":68.9,"s":10,"c":"U"},{"t":2014.72,"v":69.4,"s":10,"c":"U"},{"t":2014.79,"v":75,"s":10,"c":"U"},{"t":2014.85,"v":78.7,"s":10,"c":"U"},{"t":2014.92,"v":81.1,"s":10,"c":"U"},{"t":2014.99,"v":84.8,"s":10,"c":"U"},{"t":2015.07,"v":78.7,"s":10,"c":"U"},{"t":2015.14,"v":81.6,"s":10,"c":"U"},{"t":2015.22,"v":81.1,"s":10,"c":"U"},{"t":2015.29,"v":77.5,"s":10,"c":"U"},{"t":2015.37,"v":80.6,"s":10,"c":"U"},{"t":2015.44,"v":81.1,"s":10,"c":"U"},{"t":2015.51,"v":81.1,"s":10,"c":"U"},{"t":2015.58,"v":81.6,"s":10,"c":"U"},{"t":2015.64,"v":79.9,"s":10,"c":"U"},{"t":2015.71,"v":79.9,"s":10,"c":"U"},{"t":2015.78,"v":82.4,"s":10,"c":"U"},{"t":2015.83,"v":87.3,"s":10,"c":"U"},{"t":2015.91,"v":89.7,"s":10,"c":"U"},{"t":2015.98,"v":88.5,"s":10,"c":"U"},{"t":2016.06,"v":86.5,"s":10,"c":"U"},{"t":2016.13,"v":87.3,"s":10,"c":"U"},{"t":2016.19,"v":90.4,"s":10,"c":"U"},{"t":2016.23,"v":94.6,"s":10,"c":"U"},{"t":2016.29,"v":92.9,"s":10,"c":"U"},{"t":2016.34,"v":94.6,"s":10,"c":"U"},{"t":2016.41,"v":99.5,"s":10,"c":"U"},{"t":2016.48,"v":102.5,"s":10,"c":"U"},{"t":2016.55,"v":104.4,"s":10,"c":"U"},{"t":2016.63,"v":103.9,"s":10,"c":"U"},{"t":2016.7,"v":102.7,"s":10,"c":"U"},{"t":2016.77,"v":101.5,"s":10,"c":"U"},{"t":2016.83,"v":103.2,"s":10,"c":"U"},{"t":2016.9,"v":111.8,"s":10,"c":"U"},{"t":2016.97,"v":112.5,"s":10,"c":"U"},{"t":2017.05,"v":113,"s":10,"c":"U"},{"t":2017.12,"v":115,"s":10,"c":"U"},{"t":2017.17,"v":121.1,"s":10,"c":"U"},{"t":2017.22,"v":118.4,"s":10,"c":"U"},{"t":2017.3,"v":116.7,"s":10,"c":"U"},{"t":2017.4,"v":115.4,"s":10,"c":"U"},{"t":2017.48,"v":116.7,"s":10,"c":"U"},{"t":2017.54,"v":117.9,"s":10,"c":"U"},{"t":2017.62,"v":118.4,"s":10,"c":"U"},{"t":2017.69,"v":119.9,"s":10,"c":"U"},{"t":2017.76,"v":121.6,"s":10,"c":"U"},{"t":2017.82,"v":125.2,"s":10,"c":"U"},{"t":2017.89,"v":130.6,"s":10,"c":"U"},{"t":2017.94,"v":131.4,"s":10,"c":"U"},{"t":2017.99,"v":133.1,"s":10,"c":"U"},{"t":2018.06,"v":140.4,"s":10,"c":"U"},{"t":2018.12,"v":137.5,"s":10,"c":"U"},{"t":2018.19,"v":133.8,"s":10,"c":"U"},{"t":2018.26,"v":131.4,"s":10,"c":"U"},{"t":2018.31,"v":130.1,"s":10,"c":"U"},{"t":2018.37,"v":138.7,"s":10,"c":"U"},{"t":2018.42,"v":142.4,"s":10,"c":"U"},{"t":2018.49,"v":144.9,"s":10,"c":"U"},{"t":2018.55,"v":149.8,"s":10,"c":"U"},{"t":2018.61,"v":157.1,"s":10,"c":"U"},{"t":2018.66,"v":166.4,"s":10,"c":"U"},{"t":2018.73,"v":165.7,"s":10,"c":"U"},{"t":2018.8,"v":158.3,"s":10,"c":"U"},{"t":2018.86,"v":162,"s":10,"c":"U"},{"t":2018.91,"v":162.5,"s":10,"c":"U"},{"t":2018.95,"v":154.7,"s":10,"c":"U"},{"t":2019.0,"v":142.4,"s":10,"c":"U"},{"t":2019.05,"v":152.2,"s":10,"c":"U"},{"t":2019.1,"v":158.3,"s":10,"c":"U"},{"t":2019.16,"v":163.2,"s":10,"c":"U"},{"t":2019.23,"v":168.1,"s":10,"c":"U"},{"t":2019.28,"v":173,"s":10,"c":"U"},{"t":2019.33,"v":175.5,"s":10,"c":"U"},{"t":2019.38,"v":168.1,"s":10,"c":"U"},{"t":2019.41,"v":163.2,"s":10,"c":"U"},{"t":2019.46,"v":173,"s":10,"c":"U"},{"t":2019.5,"v":179.7,"s":10,"c":"U"},{"t":2019.57,"v":182.1,"s":10,"c":"U"},{"t":2019.65,"v":181.1,"s":10,"c":"U"},{"t":2019.72,"v":181.6,"s":10,"c":"U"},{"t":2019.8,"v":184.1,"s":10,"c":"U"},{"t":2019.87,"v":192,"s":10,"c":"U"},{"t":2019.95,"v":196.5,"s":10,"c":"U"},{"t":2020.02,"v":200.2,"s":10,"c":"U"},{"t":2020.07,"v":203.5,"s":10,"c":"U"},{"t":2020.12,"v":196.3,"s":10,"c":"U"},{"t":2020.17,"v":183,"s":10,"c":"U"},{"t":2020.22,"v":171.5,"s":10,"c":"U"},{"t":2020.25,"v":167.2,"s":10,"c":"U"},{"t":2020.29,"v":186.3,"s":10,"c":"U"},{"t":2020.34,"v":199,"s":10,"c":"U"},{"t":2020.39,"v":207.6,"s":10,"c":"U"},{"t":2020.47,"v":211.8,"s":10,"c":"U"},{"t":2020.51,"v":221.3,"s":10,"c":"U"},{"t":2020.56,"v":230.9,"s":10,"c":"U"},{"t":2020.61,"v":240.4,"s":10,"c":"U"},{"t":2020.67,"v":250,"s":10,"c":"U"},{"t":2020.71,"v":242,"s":10,"c":"U"},{"t":2020.76,"v":238.9,"s":10,"c":"U"},{"t":2020.81,"v":237.3,"s":10,"c":"U"},{"t":2020.86,"v":250,"s":10,"c":"U"},{"t":2020.91,"v":259.6,"s":10,"c":"U"},{"t":2020.96,"v":265.3,"s":10,"c":"U"},{"t":2021.04,"v":263.4,"s":10,"c":"U"},{"t":2021.09,"v":267.5,"s":10,"c":"U"},{"t":2021.16,"v":273.9,"s":10,"c":"U"},{"t":2021.21,"v":281.8,"s":10,"c":"U"},{"t":2021.26,"v":291.4,"s":10,"c":"U"},{"t":2021.31,"v":304.1,"s":10,"c":"U"},{"t":2021.36,"v":302.5,"s":10,"c":"U"},{"t":2021.41,"v":301,"s":10,"c":"U"},{"t":2021.46,"v":307.3,"s":10,"c":"U"},{"t":2021.5,"v":317.5,"s":10,"c":"U"},{"t":2021.55,"v":323.2,"s":10,"c":"U"},{"t":2021.6,"v":328,"s":10,"c":"U"},{"t":2021.65,"v":339.2,"s":10,"c":"U"},{"t":2021.68,"v":336,"s":10,"c":"U"},{"t":2021.72,"v":323.2,"s":10,"c":"U"},{"t":2021.77,"v":336,"s":10,"c":"U"},{"t":2021.82,"v":352.5,"s":10,"c":"U"},{"t":2021.88,"v":354.5,"s":10,"c":"U"},{"t":2021.93,"v":356.7,"s":10,"c":"U"},{"t":2021.98,"v":364.6,"s":10,"c":"U"},{"t":2022.02,"v":367.8,"s":10,"c":"U"},{"t":2022.05,"v":358.3,"s":10,"c":"U"},{"t":2022.1,"v":343.9,"s":10,"c":"U"},{"t":2022.15,"v":336,"s":10,"c":"U"},{"t":2022.2,"v":342.4,"s":10,"c":"U"},{"t":2022.25,"v":349.4,"s":10,"c":"U"},{"t":2022.28,"v":332.8,"s":10,"c":"U"},{"t":2022.31,"v":313.7,"s":10,"c":"U"},{"t":2022.35,"v":312.1,"s":10,"c":"U"},{"t":2022.4,"v":310.5,"s":10,"c":"U"},{"t":2022.45,"v":297.8,"s":10,"c":"U"},{"t":2022.49,"v":288.2,"s":10,"c":"U"},{"t":2022.52,"v":304.1,"s":10,"c":"U"},{"t":2022.57,"v":320.1,"s":10,"c":"U"},{"t":2022.62,"v":315.3,"s":10,"c":"U"},{"t":2022.66,"v":307.3,"s":10,"c":"U"},{"t":2022.7,"v":294.6,"s":10,"c":"U"},{"t":2022.74,"v":283.4,"s":10,"c":"U"},{"t":2022.78,"v":294.6,"s":10,"c":"U"},{"t":2022.82,"v":307.3,"s":10,"c":"U"},{"t":2022.87,"v":312.1,"s":10,"c":"U"},{"t":2022.92,"v":313.7,"s":10,"c":"U"},{"t":2022.96,"v":301,"s":10,"c":"U"},{"t":2023.0,"v":285.7,"s":10,"c":"U"},{"t":2023.04,"v":291.4,"s":10,"c":"U"},{"t":2023.09,"v":299.4,"s":10,"c":"U"},{"t":2023.14,"v":293,"s":10,"c":"U"},{"t":2023.19,"v":301,"s":10,"c":"U"},{"t":2023.24,"v":304.8,"s":10,"c":"U"},{"t":2023.31,"v":305.1,"s":10,"c":"U"},{"t":2023.36,"v":310.5,"s":10,"c":"U"},{"t":2023.41,"v":316.9,"s":10,"c":"U"},{"t":2023.46,"v":329.6,"s":10,"c":"U"},{"t":2023.5,"v":342.4,"s":10,"c":"U"},{"t":2023.53,"v":350.3,"s":10,"c":"U"},{"t":2023.56,"v":355.1,"s":10,"c":"U"},{"t":2023.61,"v":354.5,"s":10,"c":"U"},{"t":2023.66,"v":351.9,"s":10,"c":"U"},{"t":2023.71,"v":336,"s":10,"c":"U"},{"t":2023.75,"v":334.4,"s":10,"c":"U"},{"t":2023.81,"v":331.2,"s":10,"c":"U"},{"t":2023.86,"v":345.5,"s":10,"c":"U"},{"t":2023.91,"v":364.6,"s":10,"c":"U"},{"t":2023.95,"v":375.8,"s":10,"c":"U"},{"t":2024.0,"v":382.2,"s":10,"c":"U"},{"t":2024.05,"v":385.4,"s":10,"c":"U"},{"t":2024.1,"v":396.5,"s":10,"c":"U"},{"t":2024.15,"v":412.4,"s":10,"c":"U"},{"t":2024.19,"v":420.4,"s":10,"c":"U"},{"t":2024.23,"v":426.8,"s":10,"c":"U"},{"t":2024.27,"v":420.4,"s":10,"c":"U"},{"t":2024.31,"v":406,"s":10,"c":"U"},{"t":2024.35,"v":412.4,"s":10,"c":"U"},{"t":2024.4,"v":430,"s":10,"c":"U"},{"t":2024.45,"v":441.1,"s":10,"c":"U"},{"t":2024.5,"v":455.4,"s":10,"c":"U"},{"t":2024.54,"v":456,"s":10,"c":"U"},{"t":2024.59,"v":458.6,"s":10,"c":"U"},{"t":2024.65,"v":465,"s":10,"c":"U"},{"t":2024.7,"v":471.3,"s":10,"c":"U"},{"t":2024.75,"v":479.3,"s":10,"c":"U"},{"t":2024.8,"v":485.7,"s":10,"c":"U"},{"t":2024.84,"v":486,"s":10,"c":"U"},
{"t":2024.92,"v":0,"s":11,"c":"I"},{"t":2024.97,"v":0.6,"s":11,"c":"I"},{"t":2025.04,"v":3.2,"s":11,"c":"I"},{"t":2025.12,"v":8,"s":11,"c":"I"},{"t":2025.2,"v":12.7,"s":11,"c":"I"},{"t":2025.27,"v":15.9,"s":11,"c":"I"},{"t":2025.34,"v":16.6,"s":11,"c":"I"},{"t":2025.4,"v":15.3,"s":11,"c":"I"},{"t":2025.47,"v":13.7,"s":11,"c":"I"},{"t":2025.51,"v":11.8,"s":11,"c":"I"},{"t":2025.58,"v":9.6,"s":11,"c":"I"},{"t":2025.63,"v":11.1,"s":11,"c":"I"},{"t":2025.69,"v":11.8,"s":11,"c":"I"},{"t":2025.76,"v":10.5,"s":11,"c":"I"},{"t":2025.83,"v":9.6,"s":11,"c":"I"},{"t":2025.89,"v":10.2,"s":11,"c":"I"},{"t":2025.96,"v":12.7,"s":11,"c":"I"},{"t":2026.03,"v":15.9,"s":11,"c":"I"},{"t":2026.09,"v":20.7,"s":11,"c":"I"},{"t":2026.14,"v":23.9,"s":11,"c":"I"},{"t":2026.17,"v":26.1,"s":11,"c":"I"},{"t":2026.21,"v":20.7,"s":11,"c":"I"},{"t":2026.26,"v":19.1,"s":11,"c":"I"},{"t":2026.31,"v":18.2,"s":11,"c":"I"},{"t":2026.38,"v":15.9,"s":11,"c":"I"},{"t":2026.44,"v":15,"s":11,"c":"I"},{"t":2026.5,"v":14.5,"s":11,"c":"I"}
]},
"mark":{"type":"area","interpolate":"linear"},
"encoding":{
"x":{"field":"t","type":"quantitative","scale":{"domain":[1970,2026.5],"nice":false,"zero":false},
"axis":{"values":[1974,1979,1984,1989,1994,1999,2004,2009,2014,2019,2024],"labelExpr":"\"'\" + slice(toString(datum.value), 2)","labelFlush":false,"labelOverlap":false,"grid":true,"gridColor":"#d2d2d2","gridWidth":2,"tickColor":"#8c8c8c","tickWidth":2,"tickSize":-18,"domainColor":"#9b9b9b","domainWidth":2,"labelFont":"DejaVu Sans","labelFontSize":30,"labelFontWeight":300,"labelColor":"#111111","labelPadding":34,
"title":"Data as of Jun 30, 2026. Source: Bloomberg, J.P. Morgan Asset Management, Betterment.","titleAnchor":"end","titleAlign":"right","titleX":1900,"titleY":178,"titleBaseline":"alphabetic","titleFont":"DejaVu Sans","titleFontSize":27,"titleFontWeight":300,"titleColor":"#111111"}},
"y":{"field":"v","type":"quantitative","stack":null,"scale":{"domain":[-50,600],"nice":false,"zero":false},
"axis":{"values":[-50,0,50,100,150,200,250,300,350,400,450,500,550,600],"labelExpr":"toString(datum.value)","labelFlush":false,"labelOverlap":false,"grid":true,"gridColor":"#d2d2d2","gridWidth":2,"tickColor":"#8c8c8c","tickWidth":2,"tickSize":-18,"domainColor":"#9b9b9b","domainWidth":2,"labelFont":"DejaVu Sans","labelFontSize":30,"labelFontWeight":300,"labelColor":"#111111","labelPadding":39,"title":null}},
"color":{"field":"c","type":"nominal","scale":{"domain":["I","U"],"range":["#020d4f","#1e6ee4"]},
"legend":{"orient":"none","legendX":270,"legendY":936,"direction":"horizontal","title":null,"symbolType":"square","symbolSize":7056,"symbolStrokeWidth":0,"symbolOpacity":1,"labelFont":"DejaVu Sans","labelFontSize":36,"labelFontWeight":300,"labelColor":"#111111","labelOffset":27,"columnPadding":22,"labelLimit":1200,"labelExpr":"datum.label == 'I' ? \"Developed int'l stocks outperforming\" : 'US stocks outperforming'"}},
"detail":{"field":"s","type":"nominal"}
}
}
